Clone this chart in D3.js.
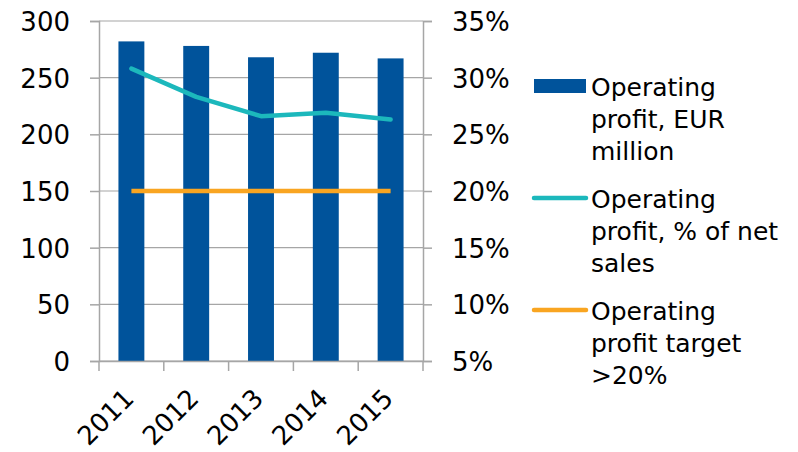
<!DOCTYPE html>
<html><head><meta charset="utf-8">
<script src="https://cdn.jsdelivr.net/npm/d3@7"></script>
<style>body{margin:0;background:#fff}svg{display:block}text{font-family:"DejaVu Sans",sans-serif;fill:#000}</style>
</head><body><svg id="c" width="798" height="452"></svg>
<script>
const years = ["2011","2012","2013","2014","2015"];
const profitEUR = [282, 278, 268, 272, 267];
const profitPct = [30.8, 28.3, 26.6, 26.9, 26.3];
const targetPct = [20, 20, 20, 20, 20];
const leftTicks = [0,50,100,150,200,250,300];
const rightTicks = [5,10,15,20,25,30,35];
const legendItems = [
  {type:"bar", color:"#00539b", lines:["Operating","profit, EUR","million"]},
  {type:"line", color:"#1cb8bc", lines:["Operating","profit, % of net","sales"]},
  {type:"line", color:"#f9a521", lines:["Operating","profit target",">20%"]}
];

const FONT = '"DejaVu Sans",sans-serif';
const svg = d3.select("#c");
const L = 99, R = 423, T = 21, B = 361;
const x = d3.scaleBand().domain(years).range([L,R]).paddingInner(0.6).paddingOuter(0.3);
const xc = d3.scaleBand().domain(years).range([L,R]);
const yL = d3.scaleLinear().domain([0,300]).range([B,T]);
const yR = d3.scaleLinear().domain([5,35]).range([B,T]);
const grid = "#a6a6a6";

// gridlines
svg.append("g").selectAll("line").data(leftTicks).join("line")
  .attr("x1",L).attr("x2",R).attr("y1",d=>yL(d)).attr("y2",d=>yL(d))
  .attr("stroke",grid).attr("stroke-width",1.2);

// bars
svg.append("g").selectAll("rect").data(years).join("rect")
  .attr("x",d=>x(d)).attr("width",x.bandwidth())
  .attr("y",(d,i)=>yL(profitEUR[i])).attr("height",(d,i)=>B-yL(profitEUR[i]))
  .attr("fill","#00539b");

// axes
const axL = svg.append("g").attr("transform",`translate(${L},0)`)
  .call(d3.axisLeft(yL).tickValues(leftTicks).tickSize(9).tickPadding(20));
const axR = svg.append("g").attr("transform",`translate(${R},0)`)
  .call(d3.axisRight(yR).tickValues(rightTicks).tickSize(9).tickPadding(20).tickFormat(d=>d+"%"));
const axB = svg.append("g").attr("transform",`translate(0,${B})`)
  .call(d3.axisBottom(xc).tickSize(0).tickPadding(0));
[axL,axR,axB].forEach(a=>{
  a.attr("font-family",FONT).attr("font-size",26);
  a.selectAll("path").attr("stroke",grid).attr("stroke-width",1.5);
  a.selectAll("line").attr("stroke",grid).attr("stroke-width",1.5);
  a.selectAll("text").style("font-family",FONT).style("font-size","26px").attr("fill","#000");
});
axL.selectAll("text").attr("dy","0.36em");
axR.selectAll("text").attr("dy","0.36em");
// category boundary ticks
svg.append("g").selectAll("line").data(d3.range(years.length+1)).join("line")
  .attr("x1",i=>L+i*xc.step()).attr("x2",i=>L+i*xc.step())
  .attr("y1",B).attr("y2",B+10).attr("stroke",grid).attr("stroke-width",1.5);
axB.selectAll("text")
  .attr("text-anchor","end").attr("dy",0).attr("y",0)
  .attr("transform","translate(4,39) rotate(-45)");

// lines
const line = d3.line().x((d,i)=>xc(years[i])+xc.bandwidth()/2).y(d=>yR(d));
svg.append("path").datum(targetPct).attr("d",line).attr("fill","none")
  .attr("stroke","#f9a521").attr("stroke-width",4.5);
svg.append("path").datum(profitPct).attr("d",line).attr("fill","none")
  .attr("stroke","#1cb8bc").attr("stroke-width",4.5).attr("stroke-linejoin","round").attr("stroke-linecap","round");

// legend
const lg = svg.append("g");
const groupBase = [96, 208, 320];
legendItems.forEach((it,k)=>{
  const b = groupBase[k];
  if(it.type==="bar"){
    lg.append("rect").attr("x",534).attr("y",b-17).attr("width",52).attr("height",14).attr("fill",it.color);
  } else {
    lg.append("line").attr("x1",534).attr("x2",586).attr("y1",b-10).attr("y2",b-10)
      .attr("stroke",it.color).attr("stroke-width",4.5).attr("stroke-linecap","round");
  }
  it.lines.forEach((t,j)=>{
    lg.append("text").attr("x",591).attr("y",b+j*32).style("font-size","25px").text(t);
  });
});
</script></body></html>
